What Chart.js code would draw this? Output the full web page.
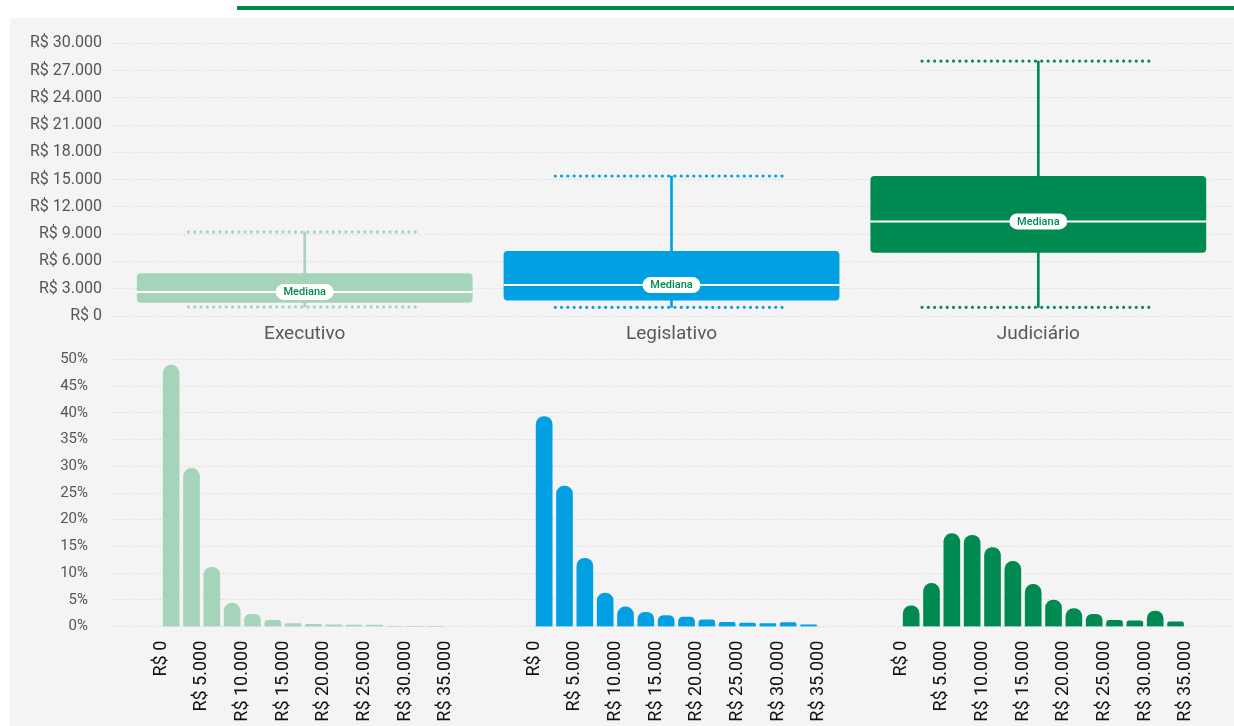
<!DOCTYPE html>
<html lang="pt-BR">
<head>
<meta charset="utf-8">
<script src="https://cdn.jsdelivr.net/npm/chart.js@4.4.1/dist/chart.umd.min.js"></script>
<style>
  html, body { margin: 0; padding: 0; background: #fff; }
  #wrap { position: relative; width: 1234px; height: 726px; overflow: hidden; }
  #topLine { position: absolute; left: 237px; top: 6px; width: 997px; height: 4px; background: #008a52; }
  #panel { position: absolute; left: 10px; top: 18px; width: 1224px; height: 708px; background: #f4f4f4; }
  canvas { position: absolute; left: 0; }
  #boxes { top: 0; }
  #hist { top: 345px; }
</style>
</head>
<body>
<div id="wrap">
  <div id="topLine"></div>
  <div id="panel"></div>
  <canvas id="boxes" width="1234" height="345"></canvas>
  <canvas id="hist" width="1234" height="381"></canvas>
</div>
<script>
// box plot (R$)
const poderes = ['Executivo', 'Legislativo', 'Judiciário'];
const minimo  = [1000, 950, 950];
const q1      = [1450, 1700, 6950];
const mediana = [2650, 3400, 10400];
const q3      = [4700, 7150, 15400];
const maximo  = [9250, 15400, 28050];

// histograms: bins of R$ 2.500, share of servants (%)
const faixas = [0, 2500, 5000, 7500, 10000, 12500, 15000, 17500, 20000, 22500, 25000, 27500, 30000, 32500];
const execPct = [48.9, 29.6, 11.1, 4.4, 2.3, 1.2, 0.6, 0.45, 0.35, 0.3, 0.3, 0, 0, 0];
const legPct  = [39.3, 26.3, 12.8, 6.3, 3.7, 2.7, 2.1, 1.8, 1.3, 0.8, 0.7, 0.6, 0.75, 0.35];
const judPct  = [3.9, 8.1, 17.4, 17.1, 14.8, 12.2, 7.9, 5.0, 3.4, 2.3, 1.2, 1.1, 2.9, 0.9];
const xTicks  = [0, 5000, 10000, 15000, 20000, 25000, 30000, 35000];

const cores = ['#a6d4bb', '#00a0e3', '#008a52'];
// where each histogram panel starts on the shared bottom axis
const painelInicio = [0, 45855, 90973];

Chart.defaults.font.family = 'Roboto';

const fmt = v => 'R$ ' + String(v).replace(/\B(?=(\d{3})+(?!\d))/g, '.');

const boxExtras = {
  id: 'boxExtras',
  afterDatasetsDraw(chart) {
    const ctx = chart.ctx;
    const x = chart.scales.x, y = chart.scales.y;
    const boxes = chart.getDatasetMeta(0).data;
    poderes.forEach((p, i) => {
      const cx = x.getPixelForValue(i);
      const half = x.getPixelForValue(i + 0.317) - cx;
      // whisker caps
      ctx.save();
      ctx.strokeStyle = cores[i];
      ctx.lineWidth = 3.2;
      ctx.lineCap = 'round';
      ctx.setLineDash([0, 6.3]);
      [minimo[i], maximo[i]].forEach(v => {
        const yy = y.getPixelForValue(v);
        ctx.beginPath();
        ctx.moveTo(cx - half, yy);
        ctx.lineTo(cx + half, yy);
        ctx.stroke();
      });
      ctx.restore();

      // median line + tag
      const b = boxes[i];
      const ym = y.getPixelForValue(mediana[i]);
      ctx.save();
      ctx.strokeStyle = '#fff';
      ctx.lineWidth = 2;
      ctx.beginPath();
      ctx.moveTo(b.x - b.width / 2, ym);
      ctx.lineTo(b.x + b.width / 2, ym);
      ctx.stroke();
      ctx.fillStyle = '#fff';
      ctx.beginPath();
      ctx.roundRect(cx - 29, ym - 8, 58, 16, 8);
      ctx.fill();
      ctx.fillStyle = '#008a52';
      ctx.font = '500 11px Roboto';
      ctx.textAlign = 'center';
      ctx.textBaseline = 'middle';
      ctx.fillText('Mediana', cx, ym + 0.5);
      ctx.restore();
    });
  }
};

new Chart(document.getElementById('boxes'), {
  type: 'bar',
  data: {
    datasets: [
      {
        data: poderes.map((p, i) => ({ x: i, y: [q1[i], q3[i]] })),
        backgroundColor: cores,
        barPercentage: 0.9155,
        categoryPercentage: 1,
        borderRadius: 4,
        borderSkipped: false,
        grouped: false,
      },
      {
        data: poderes.map((p, i) => ({ x: i, y: [minimo[i], maximo[i]] })),
        backgroundColor: cores,
        barThickness: 2,
        grouped: false,
      },
    ]
  },
  options: {
    responsive: false,
    animation: false,
    devicePixelRatio: 1,
    layout: { padding: { top: 43.3, left: 0, right: 0, bottom: 0 } },
    plugins: { legend: { display: false }, tooltip: { enabled: false } },
    scales: {
      x: {
        type: 'linear',
        offset: false,
        bounds: 'data',
        min: -0.5254,
        max: 2.5335,
        grid: { display: false, drawTicks: false },
        border: { display: false },
        afterBuildTicks: s => { s.ticks = poderes.map((p, i) => ({ value: i })); },
        afterFit: s => { s.height = 29; },
        ticks: {
          callback: v => poderes[v],
          color: '#595959',
          font: { size: 19 },
          padding: 7,
          maxRotation: 0,
          autoSkip: false,
        },
      },
      y: {
        min: 0,
        max: 30000,
        afterFit: s => { s.width = 112; },
        grid: { color: '#d2d2d2', tickLength: 10, tickColor: 'rgba(0,0,0,0)' },
        border: { display: false, dash: [1, 2] },
        ticks: { stepSize: 3000, callback: fmt, color: '#555', font: { size: 16 }, padding: 0 },
      }
    }
  },
  plugins: [boxExtras]
});

const series = [execPct, legPct, judPct];
new Chart(document.getElementById('hist'), {
  type: 'bar',
  data: {
    datasets: series.map((s, p) => ({
      data: faixas.map((f, j) => ({ x: painelInicio[p] + f + (faixas[1] - faixas[0]) / 2, y: s[j] })),
      backgroundColor: cores[p],
      barThickness: 16,
      borderRadius: 8,
      borderSkipped: 'start',
      grouped: false,
    }))
  },
  options: {
    responsive: false,
    animation: false,
    devicePixelRatio: 1,
    layout: { padding: { top: 14.3, left: 0, right: 0, bottom: 0 } },
    plugins: { legend: { display: false }, tooltip: { enabled: false } },
    scales: {
      x: {
        type: 'linear',
        offset: false,
        bounds: 'data',
        min: -6024,
        max: 131910,
        grid: { display: false, drawTicks: false },
        border: { display: false },
        afterBuildTicks: s => {
          s.ticks = [];
          painelInicio.forEach(o => xTicks.forEach(t => s.ticks.push({ value: o + t })));
        },
        afterFit: s => { s.height = 99.3; },
        ticks: {
          callback: (v, i) => fmt(xTicks[i % xTicks.length]),
          color: '#111',
          font: { size: 18 },
          padding: 14,
          minRotation: 90,
          maxRotation: 90,
          autoSkip: false,
        },
      },
      y: {
        min: 0,
        max: 50,
        afterFit: s => { s.width = 112; },
        grid: { color: '#d2d2d2', tickLength: 24, tickColor: 'rgba(0,0,0,0)' },
        border: { display: false, dash: [1, 2] },
        ticks: { stepSize: 5, callback: v => v + '%', color: '#555', font: { size: 15 }, padding: 0 },
      }
    }
  }
});
</script>
</body>
</html>
